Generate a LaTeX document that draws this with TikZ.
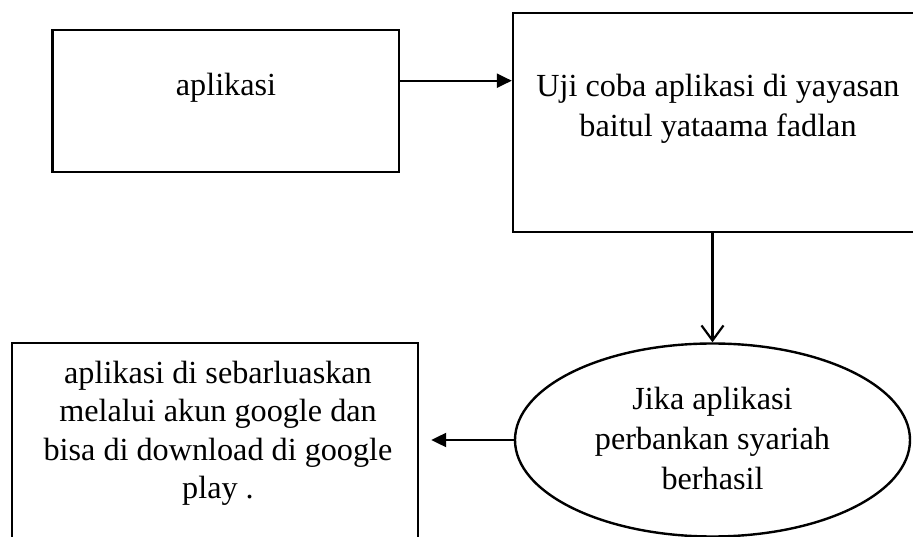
\documentclass[tikz,border=0pt]{standalone}
\usepackage{fontspec}
\setmainfont{Liberation Serif}
\usetikzlibrary{arrows.meta,shapes.geometric,calc}
\begin{document}
\begin{tikzpicture}[x=1pt,y=-1pt,
  box/.style={draw,line width=2.4pt,rectangle,inner sep=0pt},
  oval/.style={draw,line width=2.4pt,ellipse,inner sep=0pt},
  txt/.style={font=\fontsize{32.2}{40}\selectfont,align=center,inner sep=0pt,anchor=base},
  fillarr/.style={line width=2.2pt,-{Triangle[length=15pt,width=14pt]}},
  openarr/.style={line width=2.2pt,-{Straight Barb[length=15pt,width=22pt,line width=2.2pt]}}]
\clip (0,0) rectangle (913,537);
\node[box,minimum width=346.5pt,minimum height=142pt] (b1) at (225.75,101) {};
\node[box,minimum width=427pt,minimum height=219pt] (b2) at (726.5,122.5) {};
\node[oval,minimum width=395pt,minimum height=193pt] (el) at (712.5,440) {};
\node[box,minimum width=406pt,minimum height=217pt] (b3) at (215,451.5) {};
\node[txt] (t1) at (226,96) {aplikasi};
\node[txt] (t2) at (718,137) {Uji coba aplikasi di yayasan\\baitul yataama fadlan};
\node[txt] (t3) at (712.5,489.5) {Jika aplikasi\\perbankan syariah\\berhasil};
\node[txt,font=\fontsize{32.2}{38.5}\selectfont] (t4) at (218,498.5) {aplikasi di sebarluaskan\\melalui akun google dan\\bisa di download di google\\play .};
\draw[fillarr] (b1.east |- 0,80.7) -- (b2.west |- 0,80.7);
\draw[openarr] (b2.south -| el.north) -- (el.north);
\coordinate (tip3) at ($(b3.east |- el.west)+(12,0)$);
\draw[fillarr] (el.west) -- (tip3);
\end{tikzpicture}
\end{document}
